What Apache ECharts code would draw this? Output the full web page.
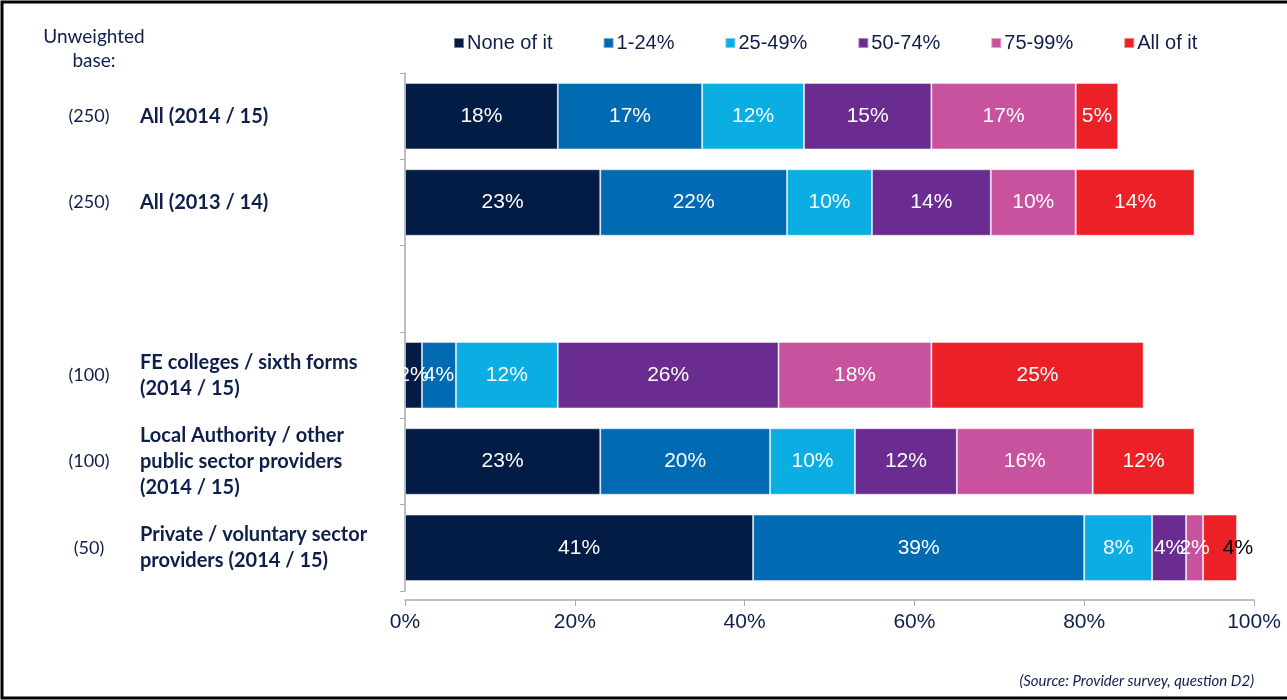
<!DOCTYPE html>
<html>
<head>
<meta charset="utf-8">
<title>Share of provision</title>
<script src="https://cdn.jsdelivr.net/npm/echarts@6/dist/echarts.min.js"></script>
<style>
  html, body { margin: 0; padding: 0; background: #fff; }
  #chart { width: 1287px; height: 700px; }
</style>
</head>
<body>
<div id="chart"></div>
<script>
// Row labels (top to bottom); the empty entry leaves a spacer row
const categories = [
  'All (2014 / 15)',
  'All (2013 / 14)',
  '',
  'FE colleges / sixth forms\n(2014 / 15)',
  'Local Authority / other\npublic sector providers\n(2014 / 15)',
  'Private / voluntary sector\nproviders (2014 / 15)'
];
const bases = ['(250)', '(250)', '', '(100)', '(100)', '(50)'];

const seriesNames = ['None of it', '1-24%', '25-49%', '50-74%', '75-99%', 'All of it'];
const noneOfIt   = [18, 23, null, 2, 23, 41];
const pct1to24   = [17, 22, null, 4, 20, 39];
const pct25to49  = [12, 10, null, 12, 10, 8];
const pct50to74  = [15, 14, null, 26, 12, 4];
const pct75to99  = [17, 10, null, 18, 16, 2];
const allOfIt    = [5, 14, null, 25, 12, 4];

const xTicks = [0, 20, 40, 60, 80, 100];

const seriesData = [noneOfIt, pct1to24, pct25to49, pct50to74, pct75to99, allOfIt];
const colors = ['#021c45', '#006ab3', '#0aaee2', '#6a2c90', '#c9529f', '#ec2027'];
const navy = '#0d1f4a';
const sans = '"Liberation Sans", Arial, sans-serif';
const humanist = 'Lato, "Open Sans", sans-serif';

const series = seriesData.map((vals, si) => ({
  name: seriesNames[si],
  type: 'bar',
  stack: 'total',
  barCategoryGap: '23%',
  itemStyle: { color: colors[si], borderColor: 'rgba(255,255,255,0.45)', borderWidth: 1 },
  label: {
    show: true,
    position: 'inside',
    color: '#fff',
    fontFamily: sans,
    fontSize: 21,
    formatter: p => p.value + '%'
  },
  data: vals.map((v, ci) => {
    // the narrow last segment of the private-sector row carries its label just outside
    if (si === seriesData.length - 1 && ci === categories.length - 1) {
      return { value: v, label: { color: '#000', offset: [18, 0] } };
    }
    return v;
  })
}));

const chart = echarts.init(document.getElementById('chart'), null, { renderer: 'canvas' });
chart.setOption({
  animation: false,
  backgroundColor: '#fff',
  color: colors,
  title: [
    {
      text: 'Unweighted\nbase:',
      left: 89, top: 20,
      textAlign: 'center',
      textStyle: { fontFamily: humanist, fontSize: 19, fontWeight: 'normal', color: navy, lineHeight: 24, align: 'center' }
    },
    {
      text: '(Source: Provider survey, question D2)',
      right: 28, top: 669,
      textStyle: { fontFamily: humanist, fontSize: 15, fontStyle: 'italic', fontWeight: 'normal', color: navy }
    }
  ],
  legend: {
    left: 448, top: 28,
    icon: 'rect',
    itemWidth: 10, itemHeight: 10,
    itemGap: 50,
    textStyle: { fontFamily: sans, fontSize: 20, color: navy, padding: [0, 0, 0, -2] },
    data: seriesNames
  },
  grid: { left: 405, right: 33, top: 73, bottom: 109, containLabel: false, outerBoundsMode: 'none' },
  xAxis: {
    type: 'value',
    min: 0, max: 100, interval: 20,
    offset: 9,
    splitLine: { show: false },
    axisLine: { show: true, lineStyle: { color: '#a6abb0', width: 1.5 } },
    axisTick: { show: true, length: 6, lineStyle: { color: '#a6abb0' } },
    axisLabel: {
      margin: 12,
      fontFamily: sans, fontSize: 21, color: navy,
      formatter: v => (xTicks.includes(v) ? v + '%' : '')
    }
  },
  yAxis: [
    {
      type: 'category',
      inverse: true,
      data: categories,
      axisLine: { show: true, lineStyle: { color: '#a6abb0', width: 1.5 } },
      axisTick: { show: true, length: 5, lineStyle: { color: '#a6abb0' } },
      axisLabel: {
        margin: 265,
        align: 'left',
        fontFamily: humanist, fontSize: 20, fontWeight: 'bold', color: navy,
        lineHeight: 26
      }
    },
    {
      type: 'category',
      inverse: true,
      position: 'left',
      data: bases,
      axisLine: { show: false },
      axisTick: { show: false },
      axisLabel: {
        margin: 316,
        align: 'center',
        fontFamily: humanist, fontSize: 18, color: navy
      }
    }
  ],
  graphic: [
    {
      type: 'rect',
      silent: true,
      shape: { x: 2, y: 2, width: 1300, height: 696 },
      style: { fill: 'none', stroke: '#000', lineWidth: 3 }
    }
  ],
  series: series
});
</script>
</body>
</html>
